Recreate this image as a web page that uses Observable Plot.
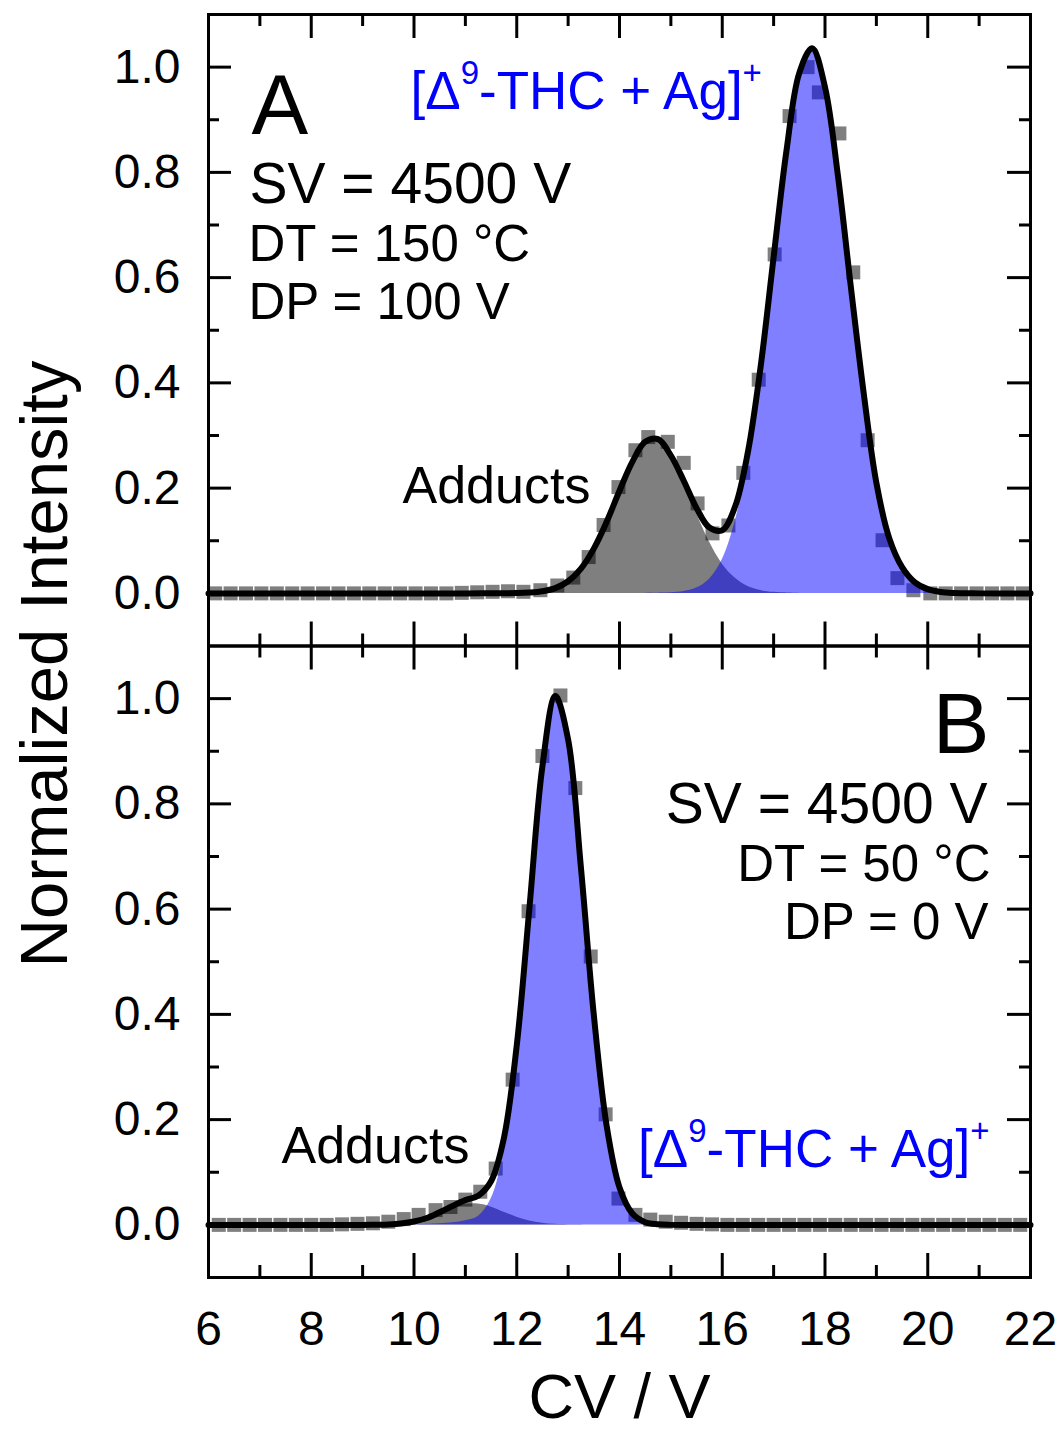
<!DOCTYPE html>
<html><head><meta charset="utf-8">
<script src="https://cdn.jsdelivr.net/npm/d3@7"></script>
<script src="https://cdn.jsdelivr.net/npm/@observablehq/plot@0.6"></script>
<style>html,body{margin:0;padding:0;background:#fff;} svg{display:block}</style>
</head><body><div id="chart"></div>
<script>
// ---------- data ----------
const panels = ["A", "B"];
const xTickValues = [6, 8, 10, 12, 14, 16, 18, 20, 22];
const xMinorValues = [7, 9, 11, 13, 15, 17, 19, 21];
const yTickValues = [0, 0.2, 0.4, 0.6, 0.8, 1.0];
const yMinorValues = [0.1, 0.3, 0.5, 0.7, 0.9];

// measured points (squares), panel A
const cvPtsA = [6.13, 6.43, 6.73, 7.03, 7.33, 7.63, 7.93, 8.23, 8.53, 8.83, 9.13, 9.43, 9.73, 10.03, 10.33, 10.63, 10.93, 11.23, 11.53, 11.83,
  12.13, 12.46, 12.79, 13.10, 13.40, 13.69, 13.98, 14.31, 14.56, 14.94, 15.25, 15.52, 15.81, 16.12, 16.41, 16.71, 17.02, 17.31, 17.66, 17.88,
  18.28, 18.55, 18.83, 19.12, 19.41, 19.72, 20.05, 20.35, 20.65, 20.95, 21.25, 21.55, 21.85];
const intPtsA = [0, 0, 0, 0, 0, 0, 0, 0, 0, 0, 0, 0, 0, 0, 0, 0, 0.001, 0.002, 0.003, 0.004,
  0.003, 0.006, 0.015, 0.03, 0.069, 0.13, 0.202, 0.272, 0.297, 0.288, 0.248, 0.171, 0.114, 0.129, 0.229, 0.406, 0.644, 0.907, 1.0, 0.952,
  0.874, 0.61, 0.291, 0.101, 0.029, 0.006, 0, 0, 0, 0, 0, 0, 0];

// measured points (squares), panel B
const cvPtsB = [6.2, 6.5, 6.8, 7.1, 7.4, 7.7, 8.0, 8.3, 8.6, 8.9, 9.2, 9.5, 9.8, 10.09, 10.42, 10.71, 11.0, 11.29, 11.59, 11.92,
  12.23, 12.5, 12.85, 13.14, 13.44, 13.73, 13.98, 14.31, 14.6, 14.9, 15.2, 15.5, 15.8, 16.1, 16.4, 16.7, 17.0, 17.3, 17.6, 17.9,
  18.2, 18.5, 18.8, 19.1, 19.4, 19.7, 20.0, 20.3, 20.6, 20.9, 21.2, 21.5, 21.8];
const intPtsB = [0, 0, 0, 0, 0, 0, 0, 0, 0.001, 0.002, 0.003, 0.006, 0.011, 0.019, 0.028, 0.034, 0.048, 0.063, 0.107, 0.276,
  0.596, 0.891, 1.006, 0.83, 0.51, 0.21, 0.05, 0.019, 0.01, 0.006, 0.004, 0.002, 0.001, 0, 0, 0, 0, 0, 0, 0,
  0, 0, 0, 0, 0, 0, 0, 0, 0, 0, 0, 0, 0];

// cumulative fit, panel A
const cvFitA = [6, 8, 10, 11, 11.5, 12.0, 12.25, 12.5, 12.75, 13.0, 13.25, 13.5, 13.75, 14.0, 14.25, 14.5, 14.75, 15.0, 15.25, 15.5,
  15.75, 16.0, 16.25, 16.5, 16.75, 17.0, 17.25, 17.5, 17.75, 18.0, 18.25, 18.5, 18.75, 19.0, 19.25, 19.5, 19.75, 20.0, 20.25, 20.5, 21, 22];
const fitA = [0, 0, 0, 0, 0.0002, 0.0005, 0.0015, 0.004, 0.010, 0.023, 0.047, 0.085, 0.136, 0.195, 0.250, 0.288, 0.293, 0.262, 0.214, 0.162,
  0.125, 0.120, 0.165, 0.269, 0.433, 0.639, 0.841, 0.989, 1.036, 0.962, 0.795, 0.585, 0.383, 0.21, 0.105, 0.05, 0.021, 0.008, 0.0026, 0.0007, 0, 0];

// adduct component, panel A
const cvGreyA = [11, 11.5, 12.0, 12.25, 12.5, 12.75, 13.0, 13.25, 13.5, 13.75, 14.0, 14.25, 14.5, 14.75, 15.0, 15.25, 15.5, 15.75, 16.0, 16.25, 16.5, 16.75, 17.0, 17.5];
const greyA = [0, 0.0001, 0.0005, 0.0015, 0.004, 0.010, 0.023, 0.047, 0.085, 0.136, 0.195, 0.249, 0.288, 0.293, 0.261, 0.211, 0.152, 0.098, 0.056, 0.029, 0.013, 0.0054, 0.002, 0];

// [Δ9-THC + Ag]+ component, panel A
const cvBlueA = [14.5, 15.0, 15.25, 15.5, 15.75, 16.0, 16.25, 16.5, 16.75, 17.0, 17.25, 17.5, 17.75, 18.0, 18.25, 18.5, 18.75, 19.0, 19.25, 19.5, 19.75, 20.0, 20.25, 20.5, 21];
const blueA = [0, 0.001, 0.0034, 0.010, 0.027, 0.064, 0.136, 0.256, 0.428, 0.637, 0.841, 0.989, 1.034, 0.962, 0.795, 0.585, 0.383, 0.21, 0.105, 0.05, 0.021, 0.008, 0.0026, 0.0007, 0];

// cumulative fit, panel B
const cvFitB = [6, 8, 9.0, 9.25, 9.5, 9.75, 10.0, 10.25, 10.5, 10.75, 11.0, 11.25, 11.5, 11.75, 12.0, 12.25, 12.5, 12.75, 13.0, 13.25,
  13.5, 13.75, 14.0, 14.25, 14.5, 14.75, 15.0, 16, 22];
const fitB = [0, 0, 0, 0.0003, 0.0009, 0.0026, 0.0064, 0.013, 0.024, 0.036, 0.047, 0.0555, 0.083, 0.165, 0.341, 0.606, 0.872, 1.005, 0.922, 0.678,
  0.399, 0.188, 0.071, 0.0215, 0.005, 0.001, 0, 0, 0];

// adduct component, panel B
const cvGreyB = [9.0, 9.25, 9.5, 9.75, 10.0, 10.25, 10.5, 10.75, 11.0, 11.25, 11.5, 11.75, 12.0, 12.25, 12.5, 12.75, 13.0, 13.5];
const greyB = [0, 0.0003, 0.0009, 0.0026, 0.0064, 0.013, 0.022, 0.032, 0.039, 0.0395, 0.034, 0.024, 0.0147, 0.0075, 0.0032, 0.0011, 0.0003, 0];

// [Δ9-THC + Ag]+ component, panel B
const cvBlueB = [10.0, 10.5, 10.75, 11.0, 11.25, 11.5, 11.75, 12.0, 12.25, 12.5, 12.75, 13.0, 13.25, 13.5, 13.75, 14.0, 14.25, 14.5, 14.75, 15.0];
const blueB = [0, 0.002, 0.004, 0.008, 0.016, 0.049, 0.141, 0.326, 0.598, 0.869, 1.003, 0.922, 0.678, 0.399, 0.188, 0.071, 0.0215, 0.005, 0.001, 0];

const thcLabel = "[Δ9-THC + Ag]+";
const condA = ["SV = 4500 V", "DT = 150 °C", "DP = 100 V"];
const condB = ["SV = 4500 V", "DT = 50 °C", "DP = 0 V"];

// ---------- build ----------
const rows = (panel, xs, ys) => xs.map((cv, i) => ({panel, cv, v: ys[i]}));
const pts = [...rows("A", cvPtsA, intPtsA), ...rows("B", cvPtsB, intPtsB)];
const fit = [...rows("A", cvFitA, fitA), ...rows("B", cvFitB, fitB)];
const grey = [...rows("A", cvGreyA, greyA), ...rows("B", cvGreyB, greyB)];
const blue = [...rows("A", cvBlueA, blueA), ...rows("B", cvBlueB, blueB)];

const W = 822, H = 631.5;
const FONT = "'Liberation Sans', Arial, Helvetica, sans-serif";
const BLUE = "#0000ff";

const txt = (s, panel, o) => Plot.text([s], {fy: [panel], text: d => d, lineAnchor: "bottom", fill: "black", ...o});

const svg = Plot.plot({
  width: 1062, height: 1429,
  marginLeft: 208, marginRight: 32, marginTop: 14, marginBottom: 152,
  x: {domain: [6, 22]},
  y: {domain: [-0.1, 1.1]},
  fy: {domain: panels, padding: 0, axis: null, round: false},
  style: {fontFamily: FONT, fontSize: "48px", color: "black", background: "white", overflow: "visible"},
  marks: [
    Plot.dot(pts, {x: "cv", y: "v", fy: "panel", symbol: "square", r: 7.9, fill: "black", fillOpacity: 0.5, stroke: "none"}),
    Plot.areaY(grey, {x: "cv", y: "v", fy: "panel", fill: "black", fillOpacity: 0.5, curve: "catmull-rom"}),
    Plot.areaY(blue, {x: "cv", y: "v", fy: "panel", fill: BLUE, fillOpacity: 0.5, curve: "catmull-rom"}),
    Plot.line(fit, {x: "cv", y: "v", fy: "panel", stroke: "black", strokeWidth: 6, curve: "catmull-rom", strokeLinejoin: "round", strokeLinecap: "round"}),
    // inward ticks
    Plot.tickX(xTickValues, {x: d => d, insetTop: H - 24, stroke: "black", strokeWidth: 3}),
    Plot.tickX(xTickValues, {x: d => d, insetBottom: H - 24, stroke: "black", strokeWidth: 3}),
    Plot.tickX(xMinorValues, {x: d => d, insetTop: H - 12, stroke: "black", strokeWidth: 3}),
    Plot.tickX(xMinorValues, {x: d => d, insetBottom: H - 12, stroke: "black", strokeWidth: 3}),
    Plot.tickY(yTickValues, {y: d => d, insetRight: W - 23, stroke: "black", strokeWidth: 3}),
    Plot.tickY(yTickValues, {y: d => d, insetLeft: W - 23, stroke: "black", strokeWidth: 3}),
    Plot.tickY(yMinorValues, {y: d => d, insetRight: W - 11, stroke: "black", strokeWidth: 3}),
    Plot.tickY(yMinorValues, {y: d => d, insetLeft: W - 11, stroke: "black", strokeWidth: 3}),
    Plot.frame({stroke: "black", strokeWidth: 3}),
    Plot.axisY({ticks: yTickValues, tickFormat: d3.format(".1f"), tickSize: 0, tickPadding: 28, fontSize: 48, label: null}),
    Plot.axisX({ticks: xTickValues, tickFormat: d3.format("d"), tickSize: 0, tickPadding: 33, fontSize: 48, label: null}),
    // annotations panel A
    txt("A", "A", {frameAnchor: "top-left", textAnchor: "start", dx: 43, dy: 119, fontSize: 85}),
    txt(condA[0], "A", {frameAnchor: "top-left", textAnchor: "start", dx: 41, dy: 188, fontSize: 57}),
    txt(condA[1], "A", {frameAnchor: "top-left", textAnchor: "start", dx: 40, dy: 246, fontSize: 51}),
    txt(condA[2], "A", {frameAnchor: "top-left", textAnchor: "start", dx: 40, dy: 304, fontSize: 51}),
    txt(thcLabel, "A", {frameAnchor: "top-left", textAnchor: "start", dx: 202, dy: 94, fontSize: 53, fill: BLUE}),
    txt("Adducts", "A", {frameAnchor: "top-left", textAnchor: "start", dx: 194, dy: 488, fontSize: 52}),
    // annotations panel B
    txt("B", "B", {frameAnchor: "top-right", textAnchor: "end", dx: -41, dy: 106.5, fontSize: 85}),
    txt(condB[0], "B", {frameAnchor: "top-right", textAnchor: "end", dx: -43, dy: 176.5, fontSize: 57}),
    txt(condB[1], "B", {frameAnchor: "top-right", textAnchor: "end", dx: -40, dy: 234.5, fontSize: 51}),
    txt(condB[2], "B", {frameAnchor: "top-right", textAnchor: "end", dx: -42, dy: 292.5, fontSize: 51}),
    txt(thcLabel, "B", {frameAnchor: "top-right", textAnchor: "end", dx: -41, dy: 520.5, fontSize: 53, fill: BLUE}),
    txt("Adducts", "B", {frameAnchor: "top-left", textAnchor: "start", dx: 73, dy: 516.5, fontSize: 52}),
    // axis titles
    txt("Normalized Intensity", "A", {frameAnchor: "bottom-left", textAnchor: "middle", rotate: -90, dx: -142, dy: 18, fontSize: 67}),
    txt("CV / V", "B", {frameAnchor: "bottom", textAnchor: "middle", dy: 140, fontSize: 63})
  ]
});

// superscripts in the ion labels
const NS = "http://www.w3.org/2000/svg";
d3.select(svg).selectAll("text").filter(function() { return this.textContent === thcLabel; }).each(function() {
  const parts = [["[Δ", 0, null], ["9", -25, 33], ["-THC + Ag]", 25, null], ["+", -25, 33]];
  this.textContent = "";
  for (const [t, dy, fs] of parts) {
    const ts = document.createElementNS(NS, "tspan");
    ts.textContent = t;
    if (dy) ts.setAttribute("dy", dy);
    if (fs) ts.setAttribute("font-size", fs);
    this.appendChild(ts);
  }
});

document.getElementById("chart").append(svg);
</script></body></html>
